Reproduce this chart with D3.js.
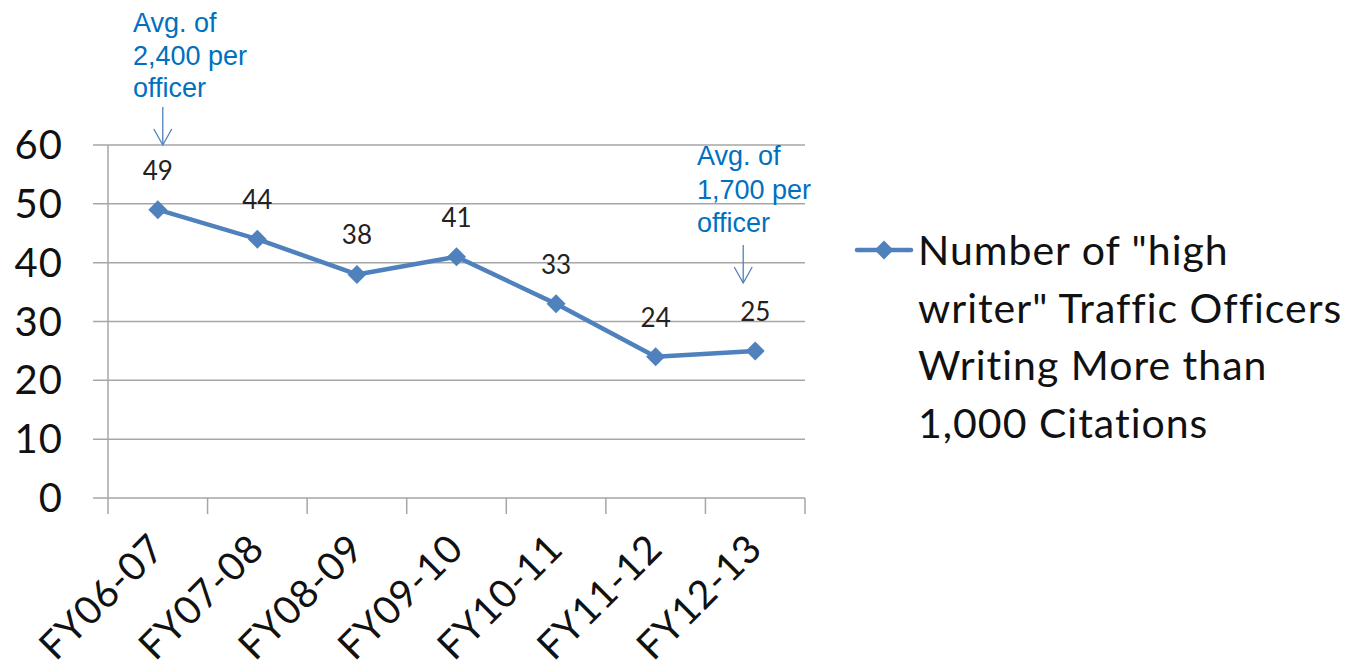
<!DOCTYPE html>
<html>
<head>
<meta charset="utf-8">
<script src="https://cdn.jsdelivr.net/npm/d3@7"></script>
<style>
  body { margin: 0; background: #fff; }
  svg text { font-family: Lato, "Open Sans", sans-serif; }
</style>
</head>
<body>
<div id="chart"></div>
<script>
const years = ["FY06-07", "FY07-08", "FY08-09", "FY09-10", "FY10-11", "FY11-12", "FY12-13"];
const highWriters = [49, 44, 38, 41, 33, 24, 25];
const yTicks = [0, 10, 20, 30, 40, 50, 60];
const legendLines = ["Number of \"high", "writer\" Traffic Officers", "Writing More than", "1,000 Citations"];
const notes = [
  { year: "FY06-07", lines: ["Avg. of", "2,400 per", "officer"] },
  { year: "FY12-13", lines: ["Avg. of", "1,700 per", "officer"] }
];

const width = 1356;
const height = 672;
const lineColor = "#4f81bd";

const svg = d3.select("#chart")
              .append("svg")
              .attr("width", width)
              .attr("height", height);

const x = d3.scalePoint().domain(years).range([108, 805]).padding(0.5);
const xEdges = d3.scaleLinear().domain([0, years.length]).range([108, 805]);
const y = d3.scaleLinear().domain([0, 60]).range([498, 145]);

// gridlines
svg.append("g")
   .selectAll("line")
   .data(yTicks)
   .enter()
   .append("line")
   .attr("x1", 93)
   .attr("x2", 805)
   .attr("y1", d => y(d))
   .attr("y2", d => y(d))
   .attr("stroke", "#a6a6a6")
   .attr("stroke-width", 1.5);

// y axis line
svg.append("line")
   .attr("x1", 108).attr("x2", 108)
   .attr("y1", y(60)).attr("y2", 514)
   .attr("stroke", "#a6a6a6").attr("stroke-width", 1.5);

// category tick marks
svg.append("g")
   .selectAll("line")
   .data(d3.range(1, years.length + 1))
   .enter()
   .append("line")
   .attr("x1", d => xEdges(d))
   .attr("x2", d => xEdges(d))
   .attr("y1", y(0))
   .attr("y2", 514)
   .attr("stroke", "#a6a6a6")
   .attr("stroke-width", 1.5);

// y labels
svg.append("g")
   .selectAll("text")
   .data(yTicks)
   .enter()
   .append("text")
   .attr("x", 63)
   .attr("y", d => y(d) + 14)
   .attr("text-anchor", "end")
   .attr("font-size", 40)
   .attr("letter-spacing", 1)
   .attr("fill", "#111")
   .text(d => d);

// x labels
svg.append("g")
   .selectAll("text")
   .data(years)
   .enter()
   .append("text")
   .attr("text-anchor", "end")
   .attr("font-size", 39)
   .attr("letter-spacing", 0.8)
   .attr("fill", "#111")
   .attr("transform", d => `translate(${x(d) + 9},${551}) rotate(-45)`)
   .text(d => d);

// series line
svg.append("path")
   .datum(highWriters)
   .attr("fill", "none")
   .attr("stroke", lineColor)
   .attr("stroke-width", 4.5)
   .attr("stroke-linejoin", "round")
   .attr("d", d3.line().x((d, i) => x(years[i])).y(d => y(d)));

// diamonds
const diamond = d3.symbol().type(d3.symbolDiamond2).size(230);
svg.append("g")
   .selectAll("path")
   .data(highWriters)
   .enter()
   .append("path")
   .attr("d", diamond)
   .attr("fill", lineColor)
   .attr("transform", (d, i) => `translate(${x(years[i])},${y(d)})`);

// value labels
svg.append("g")
   .selectAll("text")
   .data(highWriters)
   .enter()
   .append("text")
   .attr("x", (d, i) => x(years[i]))
   .attr("y", d => y(d) - 30)
   .attr("text-anchor", "middle")
   .attr("font-size", 26)
   .attr("fill", "#222")
   .text(d => d);

// annotations
const noteGroups = svg.append("g")
   .selectAll("g")
   .data(notes)
   .enter()
   .append("g");

noteGroups.each(function(n, k) {
  const g = d3.select(this);
  const cx = x(n.year);
  const tx = k === 0 ? 133 - cx : 697 - cx;
  const top = k === 0 ? 32 : 165;
  const step = k === 0 ? 32.5 : 33.5;
  g.selectAll("text")
   .data(n.lines)
   .enter()
   .append("text")
   .attr("x", cx + tx)
   .attr("y", (d, i) => top + i * step)
   .style("font-family", "'Liberation Sans', Arial, sans-serif")
   .attr("font-size", 27)
   .attr("fill", "#0070c0")
   .text(d => d);
  const ax = k === 0 ? cx + 5 : cx - 12;
  const tipY = k === 0 ? 145 : 283;
  g.append("line")
   .attr("x1", ax).attr("x2", ax)
   .attr("y1", tipY - 38).attr("y2", tipY)
   .attr("stroke", lineColor).attr("stroke-width", 1.3);
  g.append("path")
   .attr("d", `M${ax - 9},${tipY - 16} L${ax},${tipY} L${ax + 9},${tipY - 16}`)
   .attr("fill", "none")
   .attr("stroke", lineColor)
   .attr("stroke-width", 1.3);
});

// legend
const legend = svg.append("g");
legend.append("line")
      .attr("x1", 857).attr("x2", 911)
      .attr("y1", 250).attr("y2", 250)
      .attr("stroke", lineColor).attr("stroke-width", 4.5)
      .attr("stroke-linecap", "round");
legend.append("path")
      .attr("d", diamond)
      .attr("fill", lineColor)
      .attr("transform", "translate(884,250)");
legend.selectAll("text")
      .data(legendLines)
      .enter()
      .append("text")
      .attr("x", 918)
      .attr("y", (d, i) => 265 + i * 57.5)
      .attr("font-size", 41)
      .attr("letter-spacing", 1)
      .attr("fill", "#111")
      .text(d => d);
</script>
</body>
</html>
